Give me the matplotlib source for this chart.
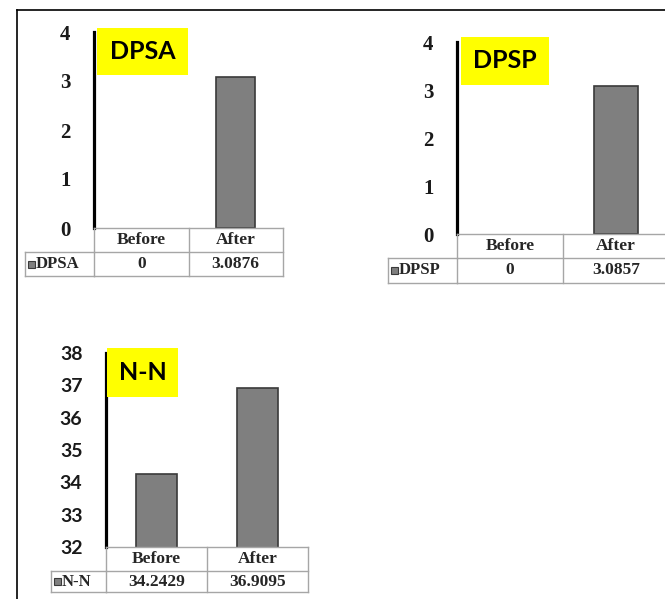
import matplotlib
matplotlib.use("Agg")
import matplotlib.pyplot as plt
from matplotlib.lines import Line2D
from matplotlib.patches import Rectangle
import matplotlib.transforms as mtransforms

# ---- data ----
categories = ["Before", "After"]
dpsa_values = [0, 3.0876]
dpsp_values = [0, 3.0857]
nn_values = [34.2429, 36.9095]
dpsa_labels = ["0", "3.0876"]
dpsp_labels = ["0", "3.0857"]
nn_labels = ["34.2429", "36.9095"]
dpsa_ticks = [0, 1, 2, 3, 4]
dpsp_ticks = [0, 1, 2, 3, 4]
nn_ticks = [32, 33, 34, 35, 36, 37, 38]

W, H = 665, 599
fig = plt.figure(figsize=(W / 100, H / 100), dpi=100)
fig.patch.set_facecolor("white")

def fx(x):
    return x / W

def fy(y):
    return 1 - y / H

SERIF = "Liberation Serif"
SANS = "Lato"
BAR = "#7f7f7f"
BAR_EDGE = "#3a3a3a"
GRID = "#a6a6a6"
TXT = "#262626"

panels = [
    dict(name="DPSA", values=dpsa_values, labels=dpsa_labels, ticks=dpsa_ticks,
         ax_l=94, ax_r=283, y_top=32, y_bot=228, hdr_bot=252, data_bot=276,
         lab_l=25, box=(97, 188, 28, 75), tickfont=SERIF, ticksize=15),
    dict(name="DPSP", values=dpsp_values, labels=dpsp_labels, ticks=dpsp_ticks,
         ax_l=457, ax_r=669, y_top=42, y_bot=234, hdr_bot=258, data_bot=283,
         lab_l=388, box=(461, 549, 37, 85), tickfont=SERIF, ticksize=15),
    dict(name="N-N", values=nn_values, labels=nn_labels, ticks=nn_ticks,
         ax_l=106, ax_r=308, y_top=353, y_bot=547, hdr_bot=571, data_bot=592,
         lab_l=51, box=(107, 178, 348, 397), tickfont=SANS, ticksize=14),
]

for p in panels:
    ax = fig.add_axes([fx(p["ax_l"]), fy(p["y_bot"]),
                       (p["ax_r"] - p["ax_l"]) / W, (p["y_bot"] - p["y_top"]) / H])
    x = list(range(len(categories)))
    lws = [1.2 if v > p["ticks"][0] else 0 for v in p["values"]]
    ax.bar(x, p["values"], width=0.41, color=BAR, edgecolor=BAR_EDGE, linewidth=lws,
           zorder=3)
    ax.set_xlim(-0.5, len(categories) - 0.5)
    ax.set_ylim(p["ticks"][0], p["ticks"][-1])
    ax.set_yticks(p["ticks"])
    ax.set_yticklabels([str(t) for t in p["ticks"]], fontfamily=p["tickfont"],
                       fontweight="bold", fontsize=p["ticksize"], color="#1a1a1a")
    ax.set_xticks([])
    ax.tick_params(axis="y", length=0, pad=17)
    for s in ["top", "right", "bottom"]:
        ax.spines[s].set_visible(False)
    ax.spines["left"].set_linewidth(2.3)
    ax.spines["left"].set_color("black")
    ax.patch.set_alpha(0)

    # table (x in data coords, y in figure coords)
    bt = mtransforms.blended_transform_factory(ax.transData, fig.transFigure)
    n = len(categories)
    lw = 1.0
    for yy in [p["y_bot"], p["hdr_bot"]]:
        fig.add_artist(Line2D([-0.5, n - 0.5], [fy(yy), fy(yy)], transform=bt,
                              color=GRID, lw=lw))
    fig.add_artist(Line2D([fx(p["lab_l"]), fx(p["ax_l"])], [fy(p["hdr_bot"])] * 2,
                          transform=fig.transFigure, color=GRID, lw=lw))
    fig.add_artist(Line2D([fx(p["lab_l"]), fx(p["ax_l"])], [fy(p["data_bot"])] * 2,
                          transform=fig.transFigure, color=GRID, lw=lw))
    fig.add_artist(Line2D([-0.5, n - 0.5], [fy(p["data_bot"])] * 2, transform=bt,
                          color=GRID, lw=lw))
    for i in range(n + 1):
        xv = i - 0.5
        fig.add_artist(Line2D([xv, xv], [fy(p["y_bot"]), fy(p["data_bot"])],
                              transform=bt, color=GRID, lw=lw))
    fig.add_artist(Line2D([fx(p["lab_l"])] * 2, [fy(p["hdr_bot"]), fy(p["data_bot"])],
                          transform=fig.transFigure, color=GRID, lw=lw))
    for i, c in enumerate(categories):
        fig.text(i, fy((p["y_bot"] + p["hdr_bot"]) / 2), c, transform=bt,
                 ha="center", va="center", fontfamily=SERIF, fontweight="bold",
                 fontsize=12.5, color=TXT)
        fig.text(i, fy((p["hdr_bot"] + p["data_bot"]) / 2), p["labels"][i],
                 transform=bt, ha="center", va="center", fontfamily=SERIF,
                 fontweight="bold", fontsize=12.5, color=TXT)
    # row label with legend key
    ymid = (p["hdr_bot"] + p["data_bot"]) / 2
    fig.add_artist(Rectangle((fx(p["lab_l"] + 3), fy(ymid + 3.5)), 7 / W, 7 / H,
                             transform=fig.transFigure, facecolor=BAR,
                             edgecolor=BAR_EDGE, lw=0.8))
    fig.text(fx(p["lab_l"] + 11), fy(ymid), p["name"], ha="left", va="center",
             fontfamily=SERIF, fontweight="bold", fontsize=12, color=TXT)

    # yellow title box
    x0, x1, y0, y1 = p["box"]
    fig.add_artist(Rectangle((fx(x0), fy(y1)), (x1 - x0) / W, (y1 - y0) / H,
                             transform=fig.transFigure, facecolor="#ffff00",
                             edgecolor="none", zorder=5))
    fig.text(fx((x0 + x1) / 2), fy((y0 + y1) / 2), p["name"], ha="center",
             va="center", fontfamily=SANS, fontweight="bold", fontsize=18,
             color="black", zorder=6)

# outer frame lines
fig.add_artist(Line2D([fx(17), 1], [fy(10), fy(10)], transform=fig.transFigure,
                      color="black", lw=1.2))
fig.add_artist(Line2D([fx(17), fx(17)], [fy(10), 0], transform=fig.transFigure,
                      color="black", lw=1.2))

fig.savefig("out.png", dpi=100, facecolor="white")
